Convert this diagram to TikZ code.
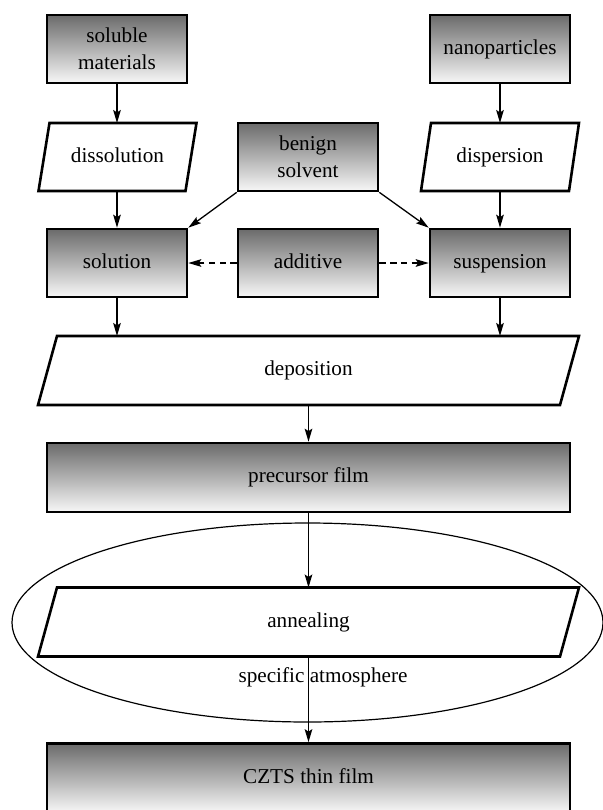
\documentclass[tikz,border=0pt]{standalone}
\usepackage{fontspec}
\setmainfont{Liberation Serif}
\usetikzlibrary{arrows.meta,shapes.geometric}
\definecolor{gtop}{gray}{0.42}
\definecolor{gbot}{gray}{0.97}
\begin{document}
\begin{tikzpicture}[x=0.5pt,y=-0.5pt,
  every node/.style={font=\fontsize{10.6}{13.6}\selectfont},
  gbox/.style={draw, line width=1.3pt, top color=gtop, bottom color=gbot,
    minimum width=70pt, minimum height=34pt, inner sep=0pt, align=center},
  oneline/.style={text height=7.4pt, text depth=2.4pt},
  wide/.style={minimum width=261.5pt, minimum height=34.5pt},
  pgram/.style={draw=none, inner sep=0pt, outer sep=0pt, minimum width=79pt, minimum height=34pt, oneline},
  pgramwide/.style={draw=none, inner sep=0pt, outer sep=0pt, minimum width=270.5pt, minimum height=34.5pt, oneline},
  pline/.style={line width=1.3pt, line join=miter},
  conn/.style={line width=0.65pt, -{Stealth[length=6.5pt,width=3.8pt,inset=1.2pt]}},
  dconn/.style={conn, dash pattern=on 3.2pt off 2.2pt}
]
\useasboundingbox (0,0) rectangle (603,810);

% ellipse (background)
\node[draw, line width=0.6pt, ellipse, minimum width=295.5pt, minimum height=99.5pt, inner sep=0pt] (env) at (307.5,622.5) {};

% top row
\node[gbox] (sm) at (117,49) {soluble\\materials};
\node[gbox, oneline] (np) at (500,49) {nanoparticles};

% second row
\node[pgram] (dis) at (117.5,157) {dissolution};
\draw[pline] ([xshift=5.5pt]dis.north west) -- (dis.north east) -- ([xshift=-5.5pt]dis.south east) -- (dis.south west) -- cycle;
\node[gbox] (bs) at (308,157) {benign\\solvent};
\node[pgram] (dsp) at (500,157) {dispersion};
\draw[pline] ([xshift=5pt]dsp.north west) -- (dsp.north east) -- ([xshift=-5pt]dsp.south east) -- (dsp.south west) -- cycle;

% third row
\node[gbox, oneline] (sol) at (117,263) {solution};
\node[gbox, oneline] (add) at (308,263) {additive};
\node[gbox, oneline] (sus) at (500,263) {suspension};

% deposition
\node[pgramwide] (dep) at (308.5,370.5) {deposition};
\draw[pline] ([xshift=9.5pt]dep.north west) -- (dep.north east) -- ([xshift=-9.5pt]dep.south east) -- (dep.south west) -- cycle;

% precursor film
\node[gbox, wide, oneline] (pf) at (308.5,477.5) {precursor film};

% annealing
\node[pgramwide] (ann) at (308.5,622) {annealing};
\draw[pline] ([xshift=9.5pt]ann.north west) -- (ann.north east) -- ([xshift=-9.5pt]ann.south east) -- (ann.south west) -- cycle;
\node[inner sep=0pt, oneline] (atm) at (323,677) {specific atmosphere};

% CZTS
\node[gbox, wide, oneline] (czts) at (308.5,778) {CZTS thin film};

% connectors
\draw[conn] (sm.south) -- (dis.north -| sm.south);
\draw[conn] (np.south) -- (dsp.north -| np.south);
\draw[conn] (dis.south -| sol.north) -- (sol.north);
\draw[conn] (dsp.south -| sus.north) -- (sus.north);
\draw[conn] (bs.south west) -- (sol.north east);
\draw[conn] (bs.south east) -- (sus.north west);
\draw[dconn] (add.west) -- (sol.east);
\draw[dconn] (add.east) -- (sus.west);
\draw[conn] (sol.south) -- (sol.south |- dep.north);
\draw[conn] (sus.south) -- (sus.south |- dep.north);
\draw[conn] (dep.south) -- (pf.north);
\draw[conn] (pf.south) -- (ann.north);
\draw[conn] (ann.south) -- (czts.north);
\end{tikzpicture}
\end{document}
